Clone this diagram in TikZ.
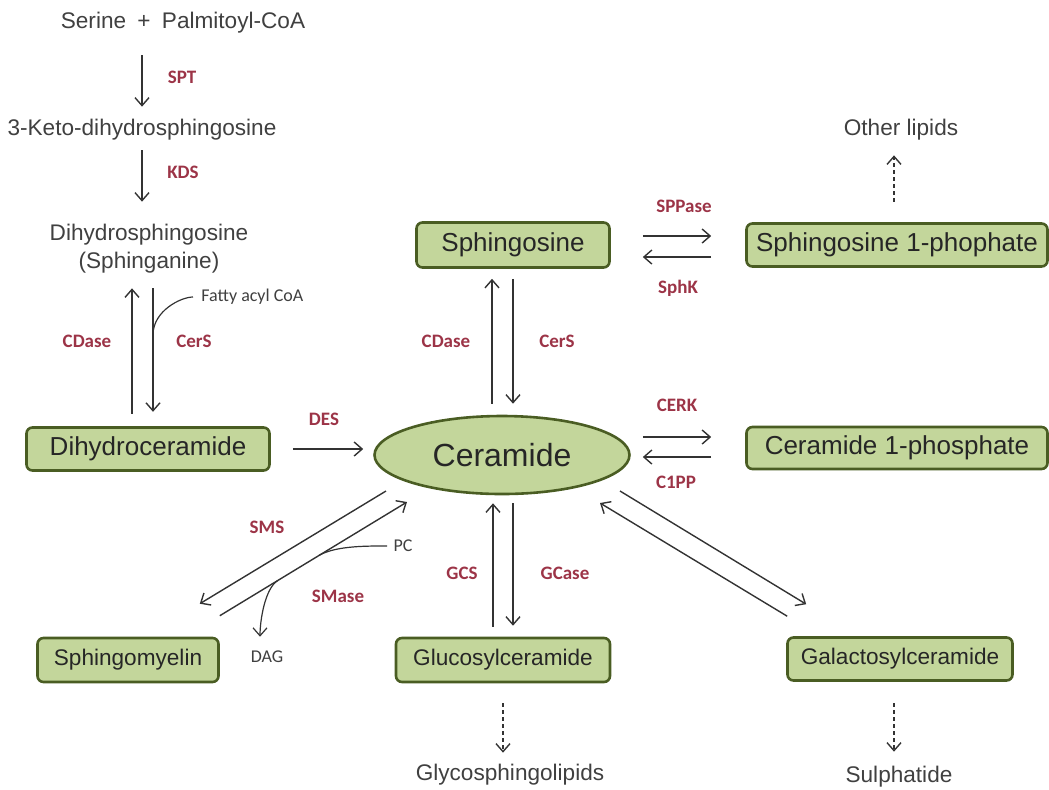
\documentclass[tikz,border=0pt]{standalone}
\usepackage{fontspec}
\setmainfont{Liberation Sans}
\newfontfamily\calib{Carlito}
\usetikzlibrary{arrows.meta,positioning,calc,shapes.geometric}
\definecolor{sgreen}{HTML}{C3D69B}
\definecolor{sedge}{HTML}{4A5D23}
\definecolor{stext}{HTML}{404040}
\definecolor{sred}{HTML}{9C3447}
\definecolor{sline}{HTML}{333333}
\tikzset{
  lipid/.style={draw=sedge,fill=sgreen,rounded corners=3pt,line width=1.3pt,inner sep=0pt,text=black!85,font=\fontsize{13}{15}\selectfont},
  lipidsm/.style={lipid,font=\fontsize{11.3}{13}\selectfont},
  txt/.style={text=stext,inner sep=0pt,align=center,font=\fontsize{11.3}{14}\selectfont},
  enz/.style={text=sred,inner sep=0pt,font=\calib\bfseries\fontsize{9.5}{11}\selectfont},
  note/.style={text=stext,inner sep=1pt,font=\calib\fontsize{9}{11}\selectfont},
  arr/.style={-{Straight Barb[length=4pt,width=7pt]},line width=0.7pt,draw=sline},
  darr/.style={arr,dash pattern=on 2pt off 1.5pt},
  twig/.style={line width=0.6pt,draw=sline},
}
\begin{document}
\begin{tikzpicture}[x=0.5pt,y=-0.5pt]
  \useasboundingbox (0,0) rectangle (1049,789);
  % --- de novo route
  \node[txt] (serine) at (183,23) {Serine\enspace+\enspace Palmitoyl-CoA};
  \node[txt] (keto) at (142,130) {3-Keto-dihydrosphingosine};
  \node[txt] (dhs) at (149,249) {Dihydrosphingosine\\(Sphinganine)};
  \node[lipid,minimum width=121.5pt,minimum height=21.5pt] (dhcer) at (148,449) {Dihydroceramide};
  \draw[arr,shorten <=10.7pt,shorten >=6.2pt] (keto.north |- serine.south) -- (keto.north);
  \draw[arr,shorten <=4.7pt,shorten >=11.2pt] (keto.south) -- (keto.south |- dhs.north);
  \draw[arr,shorten <=6.2pt,shorten >=7.2pt] ($(dhcer.north)+(-16,0)$) -- ($(dhcer.north |- dhs.south)+(-16,0)$);
  \draw[arr,shorten <=7.2pt,shorten >=7.2pt] ($(dhcer.north |- dhs.south)+(5,0)$) -- coordinate[pos=0.4] (acylfork) ($(dhcer.north)+(5,0)$);
  \node[note,anchor=west] (acyl) at (199,297) {Fatty acyl CoA};
  \draw[twig,shorten >=3pt] (acylfork) .. controls +(0,-24) and +(-18,0) .. (acyl.west);
  \node[enz] (spt) at (182,77) {SPT};
  \node[enz] (kds) at (183,172) {KDS};
  \node[enz] (cdasea) at (87,341) {CDase};
  \node[enz] (cersa) at (194,341) {CerS};
  % --- ceramide hub
  \node[lipid,ellipse,minimum width=127.5pt,minimum height=39pt,font=\fontsize{16}{18}\selectfont] (cer) at (502,455) {Ceramide};
  \draw[arr,shorten <=11pt,shorten >=5pt] (dhcer.east) -- (dhcer.east -| cer.west);
  \node[enz] (des) at (324,419) {DES};
  % --- sphingosine / S1P
  \node[lipid,minimum width=96.5pt,minimum height=22.5pt] (sph) at (513,245) {Sphingosine};
  \node[lipid,minimum width=150.5pt,minimum height=21.5pt] (s1p) at (897,245) {Sphingosine 1-phophate};
  \node[txt] (other) at (901,130) {Other lipids};
  \draw[arr,shorten <=5.5pt,shorten >=5pt] ($(cer.north)+(-10,0)$) -- ($(cer.north |- sph.south)+(-10,0)$);
  \draw[arr,shorten <=5pt,shorten >=5.5pt] ($(cer.north |- sph.south)+(11,0)$) -- ($(cer.north)+(11,0)$);
  \draw[arr,shorten <=16pt,shorten >=17pt] ($(sph.east)+(0,-9)$) -- ($(s1p.west)+(0,-9)$);
  \draw[arr,shorten <=17pt,shorten >=16pt] ($(s1p.west)+(0,12)$) -- ($(sph.east)+(0,12)$);
  \draw[darr,shorten <=10.2pt,shorten >=7.2pt] ($(s1p.north)+(-3,0)$) -- ($(s1p.north |- other.south)+(-3,0)$);
  \node[enz] (cdaseb) at (446,341) {CDase};
  \node[enz] (cersb) at (557,341) {CerS};
  \node[enz] (sppase) at (684,206) {SPPase};
  \node[enz] (sphk) at (678,288) {SphK};
  % --- C1P
  \node[lipid,minimum width=150.5pt,minimum height=21pt] (c1p) at (897,448) {Ceramide 1-phosphate};
  \draw[arr,shorten <=6pt,shorten >=17pt] ($(cer.east |- c1p.west)+(0,-11)$) -- ($(c1p.west)+(0,-11)$);
  \draw[arr,shorten <=17pt,shorten >=6pt] ($(c1p.west)+(0,9)$) -- ($(cer.east |- c1p.west)+(0,9)$);
  \node[enz] (cerk) at (677,405) {CERK};
  \node[enz] (c1pp) at (676,482) {C1PP};
  % --- sphingomyelin
  \node[lipidsm,minimum width=90.5pt,minimum height=22pt] (sm) at (128,660) {Sphingomyelin};
  \draw[arr] ($(cer.center)+(-116,36)$) -- ($(sm.north east)+(-20,-33)$);
  \draw[arr] ($(sm.north east)+(0,-21)$) -- coordinate[pos=0.31] (dagfork) coordinate[pos=0.53] (pcfork) ($(cer.center)+(-95,47)$);
  \node[note] (pc) at (403,546) {PC};
  \node[note] (dag) at (267,657) {DAG};
  \draw[twig,shorten >=2pt] (pcfork) .. controls +(17,-10) and +(-22,0) .. (pc.west);
  \draw[arr,line width=0.6pt,shorten >=6pt] (dagfork) .. controls +(-13,8) and +(0,-28) .. ($(dag.north)+(-7,0)$);
  \node[enz] (sms) at (267,527) {SMS};
  \node[enz] (smase) at (338,596) {SMase};
  % --- glucosyl- and galactosylceramide
  \node[lipidsm,minimum width=107pt,minimum height=22pt] (gluco) at (503,660) {Glucosylceramide};
  \node[lipidsm,minimum width=112.5pt,minimum height=21.5pt] (galacto) at (900,659) {Galactosylceramide};
  \node[txt] (glyco) at (510,775) {Glycosphingolipids};
  \node[txt] (sulph) at (899,777) {Sulphatide};
  \draw[arr,shorten <=5pt,shorten >=4pt] ($(gluco.north)+(-10,0)$) -- ($(gluco.north |- cer.south)+(-10,0)$);
  \draw[arr,shorten <=4pt,shorten >=5.5pt] ($(gluco.north |- cer.south)+(10,0)$) -- ($(gluco.north)+(10,0)$);
  \draw[arr] ($(cer.center)+(118,36)$) -- ($(galacto.north west)+(20,-32)$);
  \draw[arr] ($(galacto.north west)+(1,-20)$) -- ($(cer.center)+(98,48)$);
  \draw[darr,shorten <=10pt,shorten >=5.7pt] (gluco.south) -- (gluco.south |- glyco.north);
  \draw[darr,shorten <=10.7pt,shorten >=7.2pt] ($(galacto.south)+(-6,0)$) -- ($(galacto.south |- sulph.north)+(-6,0)$);
  \node[enz] (gcs) at (462,573) {GCS};
  \node[enz] (gcase) at (565,573) {GCase};
\end{tikzpicture}
\end{document}
